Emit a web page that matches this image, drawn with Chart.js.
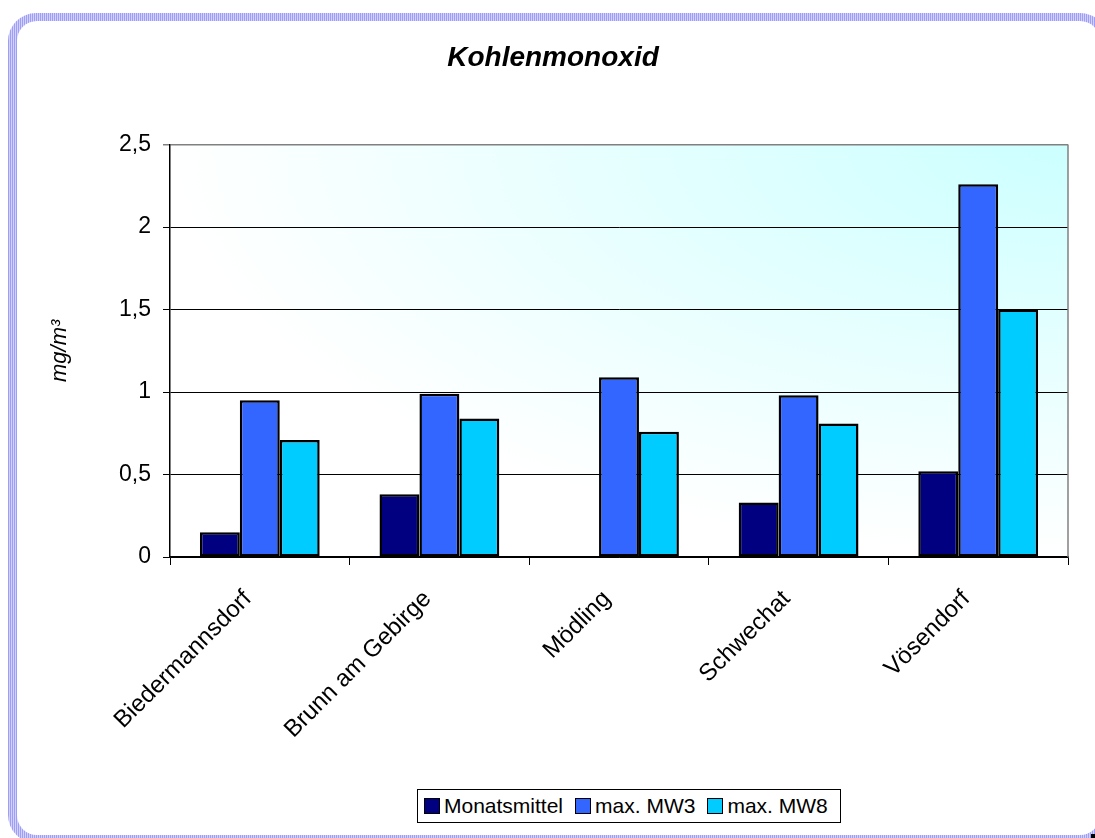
<!DOCTYPE html>
<html lang="de">
<head>
<meta charset="utf-8">
<title>Kohlenmonoxid</title>
<script src="https://cdn.jsdelivr.net/npm/chart.js@4.4.1/dist/chart.umd.min.js"></script>
<style>
  html, body { margin: 0; padding: 0; background: #fff; overflow: hidden; }
  body { width: 1095px; height: 838px; position: relative; font-family: "Liberation Sans", Arial, sans-serif; }
  .frame {
    position: absolute; left: 8px; top: 13px; width: 1100px; height: 830px;
    border-radius: 28px;
    background: repeating-linear-gradient(90deg, #9e9ef6 0 1px, #d2d2fc 1px 2px);
  }
  .frame-inner {
    position: absolute; left: 9px; top: 8px; right: 8px; bottom: 8px;
    border-radius: 20px; background: #fff;
  }
  .corner { position: absolute; left: 1091px; top: 834px; width: 4px; height: 4px; background: #000; }
  #chart { position: absolute; left: 0; top: 0; }
  #legend {
    position: absolute; left: 417px; top: 789px; width: 416px; height: 32px;
    border: 1px solid #000; background: #fff;
    display: flex; align-items: center; padding-left: 6px;
    font-size: 21px; color: #000;
  }
  #legend .item { display: flex; align-items: center; margin-right: 12px; white-space: nowrap; }
  #legend .box { width: 14px; height: 14px; border: 1.5px solid #000; margin-right: 4px; }
</style>
</head>
<body>
<div class="frame"><div class="frame-inner"></div></div>
<div class="corner"></div>
<canvas id="chart" width="1095" height="838"></canvas>
<div id="legend"></div>

<script>
const stations = ['Biedermannsdorf', 'Brunn am Gebirge', 'Mödling', 'Schwechat', 'Vösendorf'];
const monatsmittel = [0.15, 0.38, null, 0.33, 0.52];
const maxMW3 = [0.95, 0.99, 1.09, 0.98, 2.26];
const maxMW8 = [0.71, 0.84, 0.76, 0.81, 1.50];
const yTicks = [0, 0.5, 1, 1.5, 2, 2.5];

Chart.defaults.font.family = '"Liberation Sans", Arial, sans-serif';
Chart.defaults.color = '#000';

// gradient plot background plus the grey right edge of the plot frame
const plotBackground = {
  id: 'plotBackground',
  beforeDraw(chart) {
    const { ctx, chartArea: a } = chart;
    const w = a.right - a.left, h = a.bottom - a.top;
    ctx.save();
    ctx.translate(a.right, a.top);
    ctx.scale(w, h);
    const g = ctx.createRadialGradient(0, 0, 0, 0, 0, 1);
    g.addColorStop(0, '#ccffff');
    g.addColorStop(1, '#ffffff');
    ctx.fillStyle = g;
    ctx.fillRect(-1, 0, 1, 1);
    ctx.restore();
  },
  beforeDatasetsDraw(chart) {
    const { ctx, chartArea: a } = chart;
    ctx.save();
    ctx.strokeStyle = '#808080';
    ctx.lineWidth = 1.5;
    ctx.beginPath();
    ctx.moveTo(a.right, a.top);
    ctx.lineTo(a.right, a.bottom);
    ctx.stroke();
    ctx.restore();
  }
};

const bar = (label, data, color) => ({
  label, data,
  backgroundColor: color,
  borderColor: '#000',
  borderWidth: 2.5,
  borderSkipped: false,
  barPercentage: 1,
  categoryPercentage: 0.667
});

const chart = new Chart(document.getElementById('chart'), {
  type: 'bar',
  data: {
    labels: stations,
    datasets: [
      bar('Monatsmittel', monatsmittel, '#000080'),
      bar('max. MW3', maxMW3, '#3366ff'),
      bar('max. MW8', maxMW8, '#00ccff')
    ]
  },
  options: {
    responsive: false,
    animation: false,
    layout: { padding: { left: 38, right: 27, top: 0, bottom: 0 } },
    plugins: {
      legend: { display: false },
      tooltip: { enabled: false },
      title: {
        display: true,
        text: 'Kohlenmonoxid',
        color: '#000',
        font: { size: 28, weight: 'bold', style: 'italic' },
        padding: { top: 41, bottom: 70 }
      }
    },
    scales: {
      x: {
        afterFit: s => { s.height = 281; },
        grid: { offset: true, drawOnChartArea: false, tickLength: 8, color: '#000' },
        border: { color: '#000', width: 1.5 },
        ticks: { minRotation: 45, maxRotation: 45, padding: 20, labelOffset: -12, font: { size: 24 } }
      },
      y: {
        min: 0, max: 2.5,
        afterFit: s => { s.width = 132; },
        afterBuildTicks: s => { s.ticks = yTicks.map(v => ({ value: v })); },
        grid: {
          tickLength: 7,
          color: c => (c.tick && c.tick.value === 2.5 ? '#808080' : '#000'),
          lineWidth: c => (c.tick && c.tick.value === 2.5 ? 1.5 : 1)
        },
        border: { color: '#000', width: 1.5 },
        ticks: {
          padding: 12,
          font: { size: 23 },
          callback: v => String(v).replace('.', ',')
        },
        title: {
          display: true,
          text: 'mg/m³',
          font: { size: 22, style: 'italic' },
          padding: { top: 9, bottom: 0 }
        }
      }
    }
  },
  plugins: [plotBackground]
});

// legend row below the plot, built from the datasets
const legend = document.getElementById('legend');
chart.data.datasets.forEach(ds => {
  const item = document.createElement('div');
  item.className = 'item';
  const box = document.createElement('span');
  box.className = 'box';
  box.style.background = ds.backgroundColor;
  item.appendChild(box);
  item.appendChild(document.createTextNode(ds.label));
  legend.appendChild(item);
});
</script>
</body>
</html>
